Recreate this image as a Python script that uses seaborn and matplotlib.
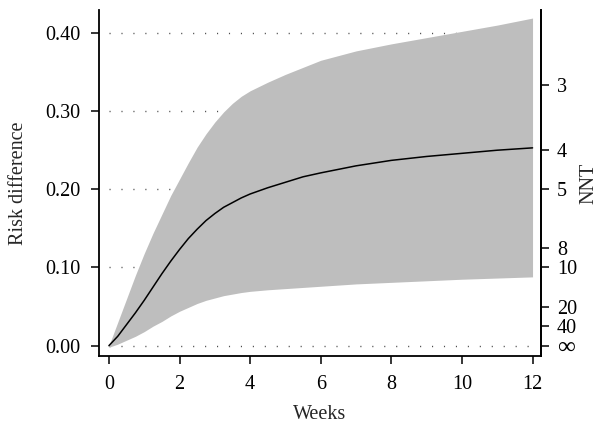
import numpy as np
import pandas as pd
import seaborn as sns
import matplotlib.pyplot as plt

# values
weeks = [0, 0.25, 0.5, 0.75, 1, 1.25, 1.5, 1.75, 2, 2.25, 2.5, 2.75, 3, 3.25, 3.5, 3.75,
         4, 4.5, 5, 5.5, 6, 7, 8, 9, 10, 11, 12]
risk_mean = [0.000, 0.012, 0.027, 0.042, 0.058, 0.075, 0.092, 0.108, 0.123, 0.137, 0.149,
             0.160, 0.169, 0.177, 0.183, 0.189, 0.194, 0.202, 0.209, 0.216, 0.221, 0.230,
             0.237, 0.242, 0.246, 0.250, 0.253]
risk_upper = [0.000, 0.030, 0.060, 0.090, 0.118, 0.144, 0.168, 0.192, 0.213, 0.234, 0.254,
              0.271, 0.286, 0.299, 0.310, 0.319, 0.326, 0.337, 0.347, 0.356, 0.365, 0.377,
              0.386, 0.394, 0.402, 0.410, 0.419]
risk_lower = [-0.002, 0.002, 0.007, 0.012, 0.018, 0.025, 0.031, 0.038, 0.044, 0.049, 0.054,
              0.058, 0.061, 0.064, 0.066, 0.068, 0.0695, 0.0715, 0.073, 0.0745, 0.076, 0.079,
              0.081, 0.083, 0.085, 0.0865, 0.088]

x_ticks = [0, 2, 4, 6, 8, 10, 12]
y_ticks = [0.0, 0.1, 0.2, 0.3, 0.4]
nnt_values = [3, 4, 5, 8, 10, 20, 40]
nnt_labels = ["3", "4", "5", "8", "10", "20", "40", "\u221e"]

df = pd.DataFrame({"weeks": weeks, "mean": risk_mean, "upper": risk_upper, "lower": risk_lower})

sns.set_style("ticks")
plt.rcParams['font.family'] = ['Liberation Serif', 'DejaVu Serif']
plt.rcParams['font.size'] = 14.5

fig = plt.figure(figsize=(6.02, 4.26), dpi=100)
ax = fig.add_axes([0.1645, 0.1643, 0.7342, 0.8122])

# dotted reference lines sit behind the band
ax.hlines(y_ticks, 0, 12, colors="#4d4d4d", linewidth=1.0,
          linestyles=(0, (0.8, 7.8)), zorder=1)
ax.fill_between(df["weeks"], df["lower"], df["upper"], color="#BEBEBE", linewidth=0, zorder=2)
sns.lineplot(data=df, x="weeks", y="mean", color="black", linewidth=1.1, ax=ax, zorder=3)

ax.set_xlim(-0.28, 12.24)
ax.set_ylim(-0.0132, 0.4293)
ax.set_xticks(x_ticks)
ax.set_yticks(y_ticks)
ax.set_yticklabels([f"{v:.2f}" for v in y_ticks])
ax.set_xlabel("Weeks", labelpad=8)
ax.set_ylabel("Risk difference", labelpad=12)
ax.tick_params(axis="x", pad=7.5)
ax.tick_params(axis="y", pad=7.5)
ax.tick_params(direction="out", length=6, width=1.1, labelsize=14.5, colors="black")
for side in ["left", "bottom", "right"]:
    ax.spines[side].set_linewidth(1.3)
    ax.spines[side].set_color("black")
ax.spines["top"].set_visible(False)

ax2 = ax.twinx()
ax2.set_ylim(ax.get_ylim())
ax2.set_yticks([1 / n for n in nnt_values] + [0.0])
ax2.set_yticklabels(nnt_labels)
ax2.set_ylabel("NNT", labelpad=2)
ax2.tick_params(direction="out", length=6, width=1.1, pad=5.5, labelsize=14.5, colors="black")
# the infinity sign is drawn large in the original
ax2.get_yticklabels()[-1].set_fontsize(18)
for side in ["top", "left", "bottom"]:
    ax2.spines[side].set_visible(False)
ax2.spines["right"].set_linewidth(1.3)
ax2.spines["right"].set_color("black")

fig.savefig("out.png", dpi=100)
plt.close(fig)
